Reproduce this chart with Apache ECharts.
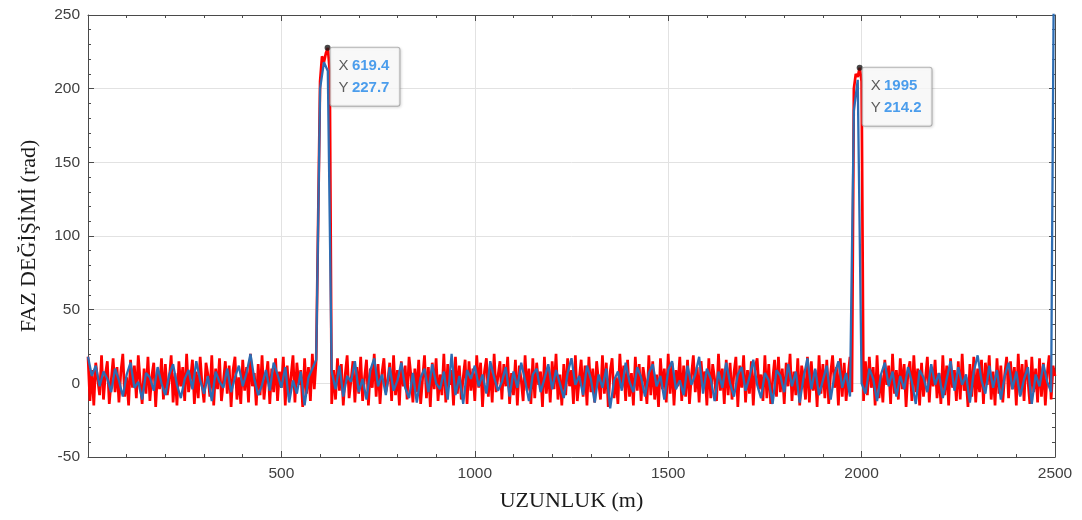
<!DOCTYPE html>
<html>
<head>
<meta charset="utf-8">
<script src="https://cdn.jsdelivr.net/npm/echarts@6/dist/echarts.min.js"></script>
<style>
html,body{margin:0;padding:0;background:#fff;}
#chart{width:1082px;height:520px;}
</style>
</head>
<body>
<div id="chart"></div>
<script>
// x sampling (m)
const X_MAX = 2500;
const RED_STEP = 5;
const BLUE_STEP = 10;

// Red series (every 5 m, 0..2500)
const redValues = [
18,-12,9,-15,14,3,-8,19,-11,6,15,-14,2,17,-6,11,-13,8,20,-9,
4,-15,16,-3,12,-10,19,1,-14,10,-7,18,-12,5,14,-16,9,-4,17,-11,
13,-8,2,19,-13,7,-15,15,-2,11,-12,20,-6,3,16,-14,8,-10,18,-1,
-13,14,6,-9,19,-15,10,-4,17,-12,1,15,-7,12,-16,9,18,-11,4,-14,
16,-5,11,-13,20,-2,7,-15,13,-8,19,-11,3,15,-14,10,-6,17,-12,8,
-3,18,-15,12,-9,5,19,-13,14,-1,9,-16,17,-7,11,-12,20,-4,16,15,
205,222,218,224,227.7,212,-14,9,-11,17,-5,13,-15,6,19,-10,2,15,-13,11,
-7,18,-12,4,16,-15,10,-3,20,-9,13,-14,7,17,-6,1,14,-12,19,-8,
9,-15,15,-2,12,-11,18,5,-13,10,-6,16,-14,3,19,-10,11,-16,14,-4,
17,-12,6,-8,20,-13,13,-1,9,-15,18,-7,12,-11,4,16,-14,15,-5,10,
-12,19,-3,14,-16,8,17,-9,11,-13,20,-6,5,15,-11,13,-2,18,-14,7,
-8,16,-15,12,2,-12,19,-5,10,-14,17,-10,14,-1,8,-16,18,-7,11,-13,
15,-4,20,-11,6,-15,13,-8,17,-2,9,-14,19,-12,3,16,-9,12,-15,18,
-6,10,-13,15,1,-11,19,-7,14,-16,8,17,-10,4,-14,20,-3,12,-12,16,
-9,7,-15,18,-5,13,-12,11,2,-14,19,-8,15,-11,6,-16,17,-4,10,-13,
20,-7,14,-15,9,-2,18,-12,12,-9,16,-14,5,19,-6,11,-13,15,-1,8,
-15,17,-10,13,3,-12,20,-5,10,-14,16,-8,14,-11,7,18,-16,12,-3,19,
-13,9,-7,15,-15,11,17,-4,6,-12,19,-10,13,-14,2,16,-9,18,-6,10,
-14,14,-2,20,-12,8,-8,17,-15,12,4,-11,18,-13,15,-5,9,-16,19,-7,
13,-10,16,-14,7,19,-3,11,-15,17,-9,14,-12,5,18,-6,200,210,208,214.2,
205,-12,15,-8,18,-3,11,-15,19,-10,6,-13,16,-1,12,-14,20,-7,9,-11,
17,-4,13,-16,8,15,-12,19,-6,10,-15,14,-9,3,18,-13,11,-2,16,-10,
7,-14,19,-8,12,-15,17,-3,9,-12,15,-11,20,-5,4,-16,13,-9,18,-13,
10,-6,16,-14,14,-1,19,-11,8,-15,17,-7,12,-13,6,18,-10,15,-4,11,
-15,20,-8,13,-12,16,2,-14,18,-6,10,-13,17,-9,14,-15,7,19,-11,12,
5
];

// Blue series (every 10 m, 0..2500)
const blueValues = [
18,5,12,-2,8,3,-6,10,2,-9,6,14,-3,1,-11,7,4,-5,11,0,
-8,6,13,-1,-10,3,9,-4,15,2,-7,5,-12,8,1,-3,10,-6,4,12,
-2,7,20,3,-8,-1,9,-5,14,6,-3,11,-13,2,-7,8,-15,4,10,16,
200,218,212,8,
-4,12,-9,5,1,15,-6,3,-11,9,17,-2,6,-8,11,-5,
2,14,-3,-10,7,-13,4,10,-6,13,0,-4,8,-11,20,-8,5,-14,9,3,
12,-2,6,-7,15,4,-5,1,11,-9,8,-3,14,2,-12,6,10,-6,3,13,
-4,9,0,-10,7,17,-1,5,-8,12,3,-13,6,-3,10,-17,2,8,-5,14,
1,-6,11,4,-9,7,13,-2,5,-11,9,15,-4,2,-8,12,-1,6,18,-7,
10,3,-12,8,-3,14,0,-9,6,11,-5,4,16,-1,-10,7,2,-14,9,5,
-6,13,-2,8,-13,4,17,-4,10,-8,2,12,-11,6,15,-3,7,-9,
185,206,
0,-7,10,3,-12,6,14,-2,8,-9,5,-4,11,1,-14,9,4,-6,13,-1,
7,-10,3,15,-5,11,-1,6,-13,8,19,2,-7,12,-3,9,-11,5,14,-4,
8,-9,3,11,-14,6,-2,13,1,-6,400
];

// Data tips
const tipX = [619.4, 1995];
const tipY = [227.7, 214.2];

// Axis settings
const Y_MIN = -50, Y_MAX = 250, Y_INT = 50;
const X_MIN = 0, X_INT = 500;

const redData = redValues.map((v, i) => [i * RED_STEP, v]);
const blueData = blueValues.map((v, i) => [i * BLUE_STEP, v]);
const tipData = tipX.map((x, i) => [x, tipY[i]]);

const axisCol = '#4a4a4a';
const tickFont = { color: '#404040', fontSize: 15.5, fontFamily: 'Arial, "Liberation Sans", sans-serif' };
const nameFont = { color: '#1a1a1a', fontSize: 22, fontFamily: '"Times New Roman", "Liberation Serif", serif' };

const chart = echarts.init(document.getElementById('chart'), null, { renderer: 'canvas' });
chart.setOption({
  animation: false,
  backgroundColor: '#ffffff',
  grid: { left: 88, right: 27, top: 15, bottom: 63, containLabel: false },
  xAxis: [
    {
      type: 'value', min: X_MIN, max: X_MAX, interval: X_INT, position: 'bottom',
      name: 'UZUNLUK (m)', nameLocation: 'middle', nameGap: 33, nameTextStyle: nameFont,
      axisLine: { show: true, onZero: false, lineStyle: { color: axisCol, width: 1 } },
      axisTick: { show: true, inside: true, length: 6, lineStyle: { color: axisCol } },
      minorTick: { show: true, splitNumber: 5, length: 3, lineStyle: { color: axisCol } },
      axisLabel: Object.assign({ showMinLabel: false, margin: 9, formatter: v => String(v) }, tickFont),
      splitLine: { show: true, lineStyle: { color: '#e2e2e2', width: 1 } }
    },
    {
      type: 'value', min: X_MIN, max: X_MAX, interval: X_INT, position: 'top',
      axisLine: { show: true, onZero: false, lineStyle: { color: axisCol, width: 1 } },
      axisTick: { show: true, inside: true, length: 6, lineStyle: { color: axisCol } },
      minorTick: { show: true, splitNumber: 5, length: 3, lineStyle: { color: axisCol } },
      axisLabel: { show: false },
      splitLine: { show: false }
    }
  ],
  yAxis: [
    {
      type: 'value', min: Y_MIN, max: Y_MAX, interval: Y_INT, position: 'left',
      name: 'FAZ DEĞİŞİMİ (rad)', nameLocation: 'middle', nameGap: 48, nameTextStyle: nameFont,
      axisLine: { show: true, onZero: false, lineStyle: { color: axisCol, width: 1 } },
      axisTick: { show: true, inside: true, length: 6, lineStyle: { color: axisCol } },
      minorTick: { show: true, splitNumber: 5, length: 3, lineStyle: { color: axisCol } },
      axisLabel: Object.assign({ margin: 8, formatter: v => String(v) }, tickFont),
      splitLine: { show: true, lineStyle: { color: '#e2e2e2', width: 1 } }
    },
    {
      type: 'value', min: Y_MIN, max: Y_MAX, interval: Y_INT, position: 'right',
      axisLine: { show: true, onZero: false, lineStyle: { color: axisCol, width: 1 } },
      axisTick: { show: true, inside: true, length: 6, lineStyle: { color: axisCol } },
      minorTick: { show: true, splitNumber: 5, length: 3, lineStyle: { color: axisCol } },
      axisLabel: { show: false },
      splitLine: { show: false }
    }
  ],
  series: [
    {
      name: 'red', type: 'line', data: redData, xAxisIndex: 0, yAxisIndex: 0,
      showSymbol: false, symbol: 'none', clip: true,
      lineStyle: { color: '#ff0000', width: 2.7 }, z: 2
    },
    {
      name: 'blue', type: 'line', data: blueData, xAxisIndex: 0, yAxisIndex: 0,
      showSymbol: false, symbol: 'none', clip: true,
      lineStyle: { color: '#2d6cb2', width: 2.3 }, z: 3
    },
    {
      name: 'tips', type: 'scatter', data: tipData, xAxisIndex: 0, yAxisIndex: 0,
      symbol: 'circle', symbolSize: 6, itemStyle: { color: '#1a1a1a' }, z: 10,
      label: {
        show: true,
        position: [6, 3],
        backgroundColor: 'rgba(255,255,255,0.95)',
        borderColor: '#a8a8a8', borderWidth: 1, borderRadius: 2,
        padding: [7, 10, 7, 8],
        shadowColor: 'rgba(0,0,0,0.15)', shadowBlur: 3, shadowOffsetX: 1, shadowOffsetY: 1,
        formatter: function (p) {
          return '{k|X} {v|' + p.value[0] + '}\n{k|Y} {v|' + p.value[1] + '}';
        },
        rich: {
          k: { color: '#333333', fontSize: 15, fontFamily: 'Arial, "Liberation Sans", sans-serif', lineHeight: 22 },
          v: { color: '#1f86e8', fontSize: 15, fontWeight: 'bold', fontFamily: 'Arial, "Liberation Sans", sans-serif', lineHeight: 22 }
        }
      }
    }
  ]
});
</script>
</body>
</html>
